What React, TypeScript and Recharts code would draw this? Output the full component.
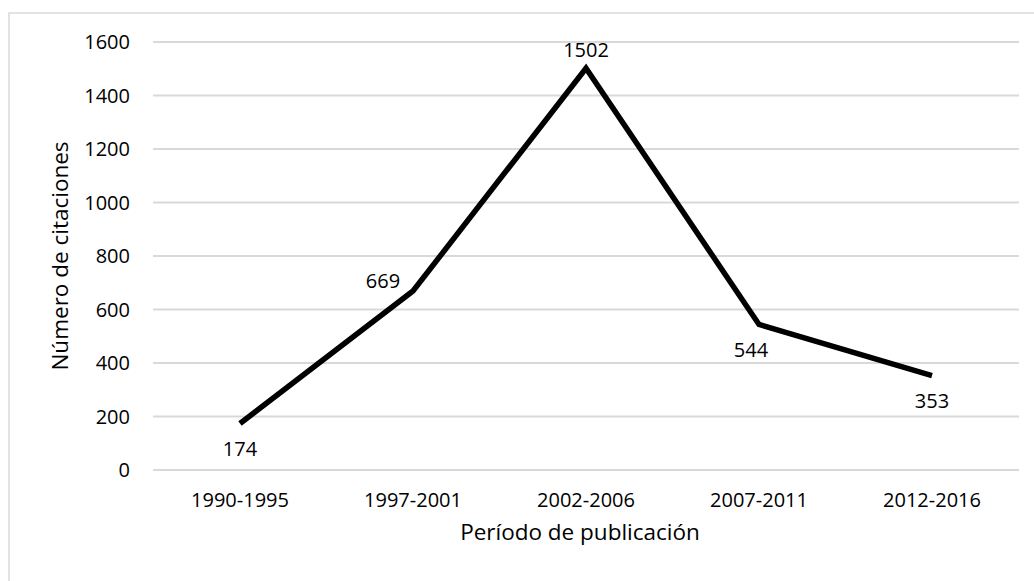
import React from 'react';
import { LineChart, Line, XAxis, YAxis, CartesianGrid, LabelList, Label } from 'recharts';

const periods = ['1990-1995', '1997-2001', '2002-2006', '2007-2011', '2012-2016'];
const citations = [174, 669, 1502, 544, 353];
const yTicks = [0, 200, 400, 600, 800, 1000, 1200, 1400, 1600];
const labelSide = ['below', 'left', 'above', 'belowLeft', 'below'];

const data = periods.map((p, i) => ({ period: p, citas: citations[i] }));

const FONT = '"Open Sans", sans-serif';
const TEXT = '#000000';
const FS = 20;
const TITLE_FS = 22.5;

const sideOffset: Record<string, [number, number]> = {
  below: [0, 25],
  belowLeft: [-8, 25],
  above: [0, -18],
  left: [-30, -10],
};

const PointLabel = (props: any) => {
  const { x, y, value, index } = props;
  const [dx, dy] = sideOffset[labelSide[index]] || [0, 0];
  return (
    <text x={x + dx} y={y + dy} dy="0.355em" textAnchor="middle" fill={TEXT} fontSize={FS} fontFamily={FONT}>
      {value}
    </text>
  );
};

const App: React.FC = () => (
  <div style={{ position: 'absolute', left: 0, top: 0, width: 1034, height: 581, background: '#fff' }}>
    <div
      style={{
        position: 'absolute',
        left: 8,
        top: 12,
        width: 1026,
        height: 569,
        borderTop: '2px solid #e3e3e3',
        borderLeft: '2px solid #e3e3e3',
        boxSizing: 'border-box',
      }}
    />
    <LineChart
      width={1034}
      height={581}
      data={data}
      margin={{ top: 42, right: 15, bottom: 0, left: 0 }}
      style={{ position: 'absolute', left: 0, top: 0 }}
    >
      <CartesianGrid horizontal vertical={false} stroke="#d9d9d9" strokeWidth={2} />
      <XAxis
        dataKey="period"
        height={111}
        axisLine={false}
        tickLine={false}
        tickSize={0}
        tickMargin={23}
        padding={{ left: 87, right: 87 }}
        tick={{ fill: TEXT, fontSize: FS, fontFamily: FONT }}
      >
        <Label
          content={({ viewBox }: any) => (
            <text
              x={viewBox.x + viewBox.width / 2 - 6}
              y={viewBox.y + 70}
              textAnchor="middle"
              fill={TEXT}
              fontSize={TITLE_FS}
              fontFamily={FONT}
            >
              Período de publicación
            </text>
          )}
        />
      </XAxis>
      <YAxis
        width={153}
        domain={[0, 1600]}
        ticks={yTicks}
        interval={0}
        axisLine={false}
        tickLine={false}
        tickSize={0}
        tickMargin={23}
        tick={{ fill: TEXT, fontSize: FS, fontFamily: FONT }}
      >
        <Label
          content={({ viewBox }: any) => {
            const cy = viewBox.y + viewBox.height / 2;
            return (
              <text
                x={68}
                y={cy}
                transform={`rotate(-90, 68, ${cy})`}
                textAnchor="middle"
                fill={TEXT}
                fontSize={TITLE_FS}
                fontFamily={FONT}
              >
                Número de citaciones
              </text>
            );
          }}
        />
      </YAxis>
      <Line
        type="linear"
        dataKey="citas"
        stroke="#000000"
        strokeWidth={5.5}
        dot={false}
        activeDot={false}
        isAnimationActive={false}
      >
        <LabelList dataKey="citas" content={PointLabel} />
      </Line>
    </LineChart>
  </div>
);

export default App;
